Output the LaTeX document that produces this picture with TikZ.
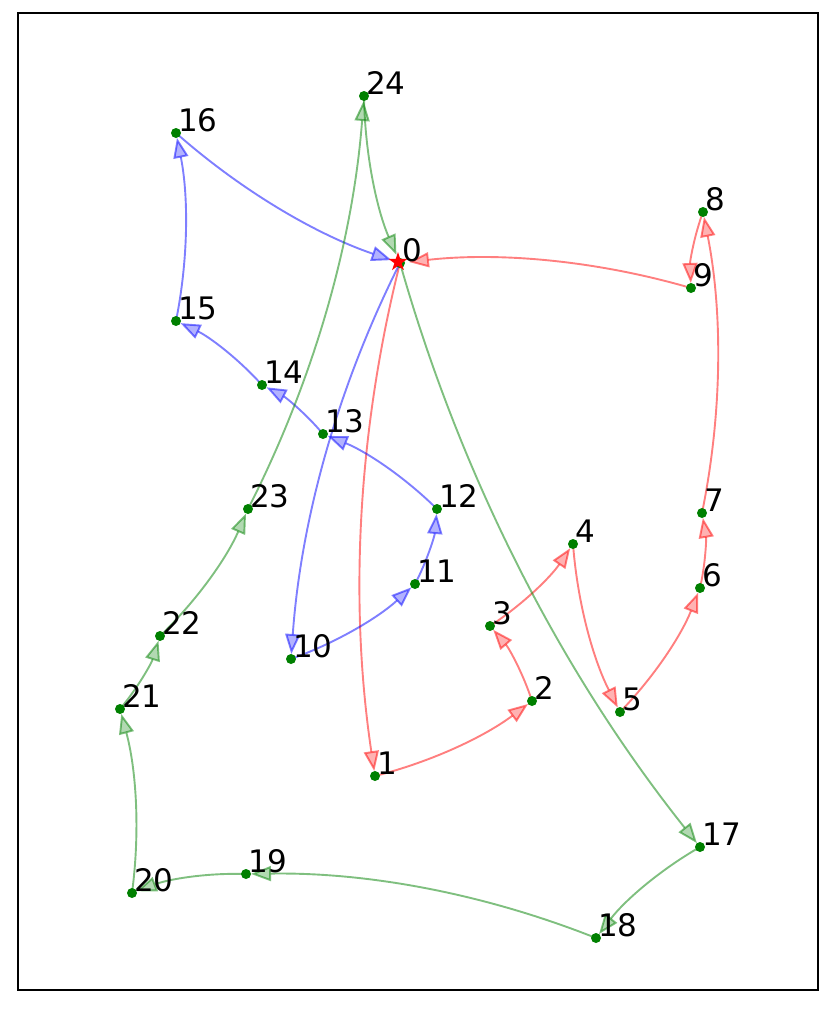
\documentclass[tikz,border=0pt]{standalone}
\usepackage{fontspec}
\setmainfont{DejaVu Sans}
\usetikzlibrary{arrows.meta,calc,shapes.geometric}
\definecolor{nodegreen}{RGB}{0,128,0}
\newcommand\arcedge[4][5pt]{%
  \coordinate (ctl) at ($(#2.center)!0.5!(#3.center)!0.2!-90:(#3.center)$);
  \draw[#4, shorten >=#1] (#2.center) .. controls ($(#2.center)!2/3!(ctl)$) and ($(#3.center)!2/3!(ctl)$) .. (#3.center);}
\begin{document}
\begin{tikzpicture}[x=1pt,y=-1pt,
  dot/.style={circle,fill=nodegreen,inner sep=0pt,minimum size=10pt},
  lbl/.style={anchor=base west,inner sep=0pt,font=\fontsize{31}{37}\selectfont},
  edgebase/.style={line width=1.9pt,draw opacity=0.5,fill opacity=0.3,-{Triangle[length=20pt,width=15pt]}},
  redge/.style={edgebase,draw=red},
  bedge/.style={edgebase,draw=blue},
  gedge/.style={edgebase,draw=nodegreen},
]
\useasboundingbox (0,0) rectangle (830,1009);
\draw[line width=1.3pt] (18,13) rectangle (818,990);
% node positions
\path
  (400,263) coordinate (p0)
  (375,776) coordinate (p1)
  (532,701) coordinate (p2)
  (490,626) coordinate (p3)
  (573,544) coordinate (p4)
  (620,712) coordinate (p5)
  (700,588) coordinate (p6)
  (702,513) coordinate (p7)
  (703,212) coordinate (p8)
  (691,288) coordinate (p9)
  (291,659) coordinate (p10)
  (415,584) coordinate (p11)
  (437,509) coordinate (p12)
  (323,434) coordinate (p13)
  (262,385) coordinate (p14)
  (176,321) coordinate (p15)
  (176,133) coordinate (p16)
  (700,847) coordinate (p17)
  (596,938) coordinate (p18)
  (246,874) coordinate (p19)
  (132,893) coordinate (p20)
  (120,709) coordinate (p21)
  (160,636) coordinate (p22)
  (248,509) coordinate (p23)
  (364,96) coordinate (p24);
% edges
\arcedge{p0}{p1}{redge}
\arcedge{p1}{p2}{redge}
\arcedge{p2}{p3}{redge}
\arcedge{p3}{p4}{redge}
\arcedge{p4}{p5}{redge}
\arcedge{p5}{p6}{redge}
\arcedge{p6}{p7}{redge}
\arcedge{p7}{p8}{redge}
\arcedge{p8}{p9}{redge}
\arcedge[9pt]{p9}{p0}{redge}
\arcedge{p0}{p10}{bedge}
\arcedge{p10}{p11}{bedge}
\arcedge{p11}{p12}{bedge}
\arcedge{p12}{p13}{bedge}
\arcedge{p13}{p14}{bedge}
\arcedge{p14}{p15}{bedge}
\arcedge{p15}{p16}{bedge}
\arcedge[9pt]{p16}{p0}{bedge}
\arcedge{p0}{p17}{gedge}
\arcedge{p17}{p18}{gedge}
\arcedge{p18}{p19}{gedge}
\arcedge{p19}{p20}{gedge}
\arcedge{p20}{p21}{gedge}
\arcedge{p21}{p22}{gedge}
\arcedge{p22}{p23}{gedge}
\arcedge{p23}{p24}{gedge}
\arcedge[9pt]{p24}{p0}{gedge}
% dots
\foreach \i in {0,...,24} {\node[dot] (n\i) at (p\i) {};}
\node[star,star points=5,star point ratio=2.618,fill=red,inner sep=0pt,minimum size=20pt] (s0) at (398,262) {};
% labels
\foreach \i in {0,...,24} {\node[lbl] (l\i) at ($(p\i)+(2,-2)$) {\i};}
\end{tikzpicture}
\end{document}
